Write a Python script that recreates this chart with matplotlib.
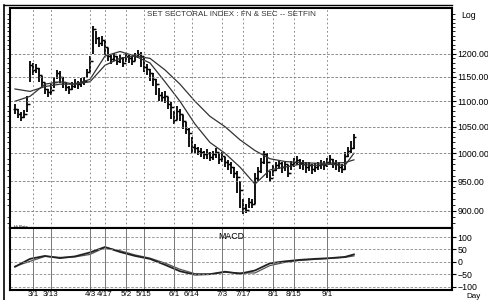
import numpy as np
import matplotlib.pyplot as plt
from matplotlib.lines import Line2D

# daily bars (trading day index 0..113)
close = [1085, 1075, 1068, 1075, 1095, 1175, 1165, 1170, 1155, 1140,
         1125, 1118, 1122, 1140, 1158, 1150, 1140, 1130, 1124, 1132,
         1138, 1135, 1140, 1142, 1160, 1185, 1255, 1235, 1225, 1230,
         1215, 1195, 1188, 1195, 1185, 1190, 1180, 1195, 1190, 1185,
         1195, 1200, 1195, 1172, 1168, 1158, 1145, 1135, 1112, 1108,
         1110, 1095, 1088, 1062, 1080, 1075, 1060, 1045, 1038, 1012,
         1010, 1005, 1003, 998, 1000, 994, 998, 1002, 990, 995,
         985, 980, 975, 965, 958, 935, 905, 902, 915, 912,
         955, 968, 985, 998, 985, 955, 970, 978, 982, 975,
         980, 965, 980, 985, 988, 982, 980, 975, 978, 972,
         975, 978, 980, 978, 985, 990, 982, 980, 975, 972,
         995, 1005, 1010, 1030]
high = [1095, 1085, 1078, 1082, 1110, 1185, 1180, 1178, 1170, 1152,
        1138, 1126, 1135, 1150, 1165, 1162, 1150, 1140, 1132, 1140,
        1145, 1142, 1148, 1150, 1168, 1195, 1262, 1250, 1238, 1240,
        1228, 1212, 1198, 1202, 1195, 1198, 1192, 1202, 1200, 1194,
        1202, 1208, 1205, 1190, 1178, 1168, 1158, 1145, 1128, 1118,
        1120, 1108, 1098, 1080, 1090, 1085, 1072, 1058, 1048, 1030,
        1018, 1012, 1010, 1005, 1008, 1002, 1004, 1010, 1000, 1002,
        994, 988, 984, 975, 968, 950, 920, 912, 922, 920,
        965, 976, 992, 1005, 1000, 968, 978, 985, 988, 984,
        986, 978, 986, 992, 995, 990, 988, 984, 985, 980,
        982, 985, 988, 986, 992, 996, 990, 988, 984, 980,
        1002, 1012, 1022, 1035]
low = [1075, 1066, 1060, 1066, 1078, 1140, 1155, 1158, 1140, 1128,
       1115, 1108, 1112, 1128, 1145, 1138, 1128, 1120, 1115, 1122,
       1128, 1126, 1130, 1134, 1148, 1160, 1200, 1222, 1215, 1218,
       1198, 1185, 1178, 1185, 1175, 1180, 1172, 1182, 1180, 1175,
       1185, 1190, 1172, 1160, 1155, 1142, 1132, 1112, 1100, 1098,
       1096, 1085, 1065, 1055, 1062, 1060, 1045, 1035, 1012, 1000,
       1000, 996, 994, 990, 990, 986, 988, 992, 980, 984,
       975, 970, 962, 955, 930, 905, 895, 896, 905, 904,
       912, 950, 965, 980, 955, 948, 960, 968, 972, 965,
       968, 958, 970, 975, 978, 972, 970, 965, 968, 962,
       966, 970, 972, 970, 975, 980, 974, 970, 966, 964,
       970, 994, 1000, 1008]

# moving averages and macd read every 5 days
ind_days = [0, 5, 10, 15, 20, 25, 30, 35, 40, 45, 50, 55, 60, 65, 70, 75,
            80, 85, 90, 95, 100, 105, 110, 113]
ma_fast = [1100, 1110, 1135, 1140, 1135, 1145, 1195, 1205, 1195, 1180, 1140, 1100,
           1055, 1020, 1000, 975, 945, 970, 975, 980, 978, 980, 978, 1000]
ma_slow = [1125, 1120, 1130, 1135, 1135, 1140, 1175, 1190, 1195, 1190, 1165, 1135,
           1100, 1070, 1050, 1025, 1005, 990, 985, 983, 982, 982, 983, 988]
macd = [-20, 12, 24, 15, 22, 38, 60, 40, 24, 12, -12, -38,
        -52, -50, -40, -48, -35, -6, 2, 8, 12, 15, 20, 30]
signal = [-18, 2, 22, 18, 20, 30, 58, 45, 28, 15, -5, -30,
          -48, -50, -42, -45, -45, -15, -2, 6, 10, 14, 18, 24]

tick_days = [6, 12, 25, 30, 37, 43, 53, 59, 69, 76, 86, 93, 104]
tick_labels = ["3/1", "3/13", "4/3", "4/17", "5/2", "5/15", "6/1", "6/14",
               "7/3", "7/17", "8/1", "8/15", "9/1"]
price_levels = [900, 950, 1000, 1050, 1100, 1150, 1200]
macd_levels = [-100, -50, 0, 50, 100]

plt.rcParams['font.family'] = 'Liberation Sans'
fig = plt.figure(figsize=(4.89, 3.0), dpi=100)
ax1 = fig.add_axes([10/489, 72/300, 442/489, 220/300])
ax2 = fig.add_axes([10/489, 10/300, 442/489, 62/300])

days = np.arange(len(close))
xlim = (-1.67, 145.7)

# price bars
ax1.vlines(days, low, high, color='black', linewidth=1.3)
ax1.hlines(close, days, days + 0.7, color='black', linewidth=1.0)
opens = [close[0]] + close[:-1]
ax1.hlines(opens, days - 0.7, days, color='black', linewidth=1.0)
ax1.plot(ind_days, ma_fast, color='#333333', linewidth=0.9)
ax1.plot(ind_days, ma_slow, color='#333333', linewidth=0.9)

ax1.set_yscale('log')
ax1.set_ylim(872, 1305)
ax1.set_xlim(*xlim)
ax1.yaxis.tick_right()
ax1.set_yticks(price_levels)
ax1.set_yticklabels([f"{v:.2f}" for v in price_levels])
ax1.set_yticks(np.arange(880, 1300, 10), minor=True)
ax1.yaxis.set_minor_formatter(plt.NullFormatter())
ax1.tick_params(axis='y', which='major', labelsize=6.3, length=3, pad=1)
ax1.tick_params(axis='y', which='minor', length=2, left=True, right=True)
ax1.set_xticks(tick_days)
ax1.tick_params(axis='x', length=0, labelbottom=False)
for lv in price_levels:
    ax1.axhline(lv, color='#777777', linewidth=0.6, linestyle=(0, (3, 2)))
for td in tick_days:
    ax1.axvline(td, color='#777777', linewidth=0.6, linestyle=(0, (2, 3)))
for s in ax1.spines.values():
    s.set_linewidth(1.5)
ax1.text(0.5, 0.985, "SET SECTORAL INDEX : FN & SEC -- SETFIN", transform=ax1.transAxes,
         ha='center', va='top', fontsize=5.8, color='#333333')
ax1.text(1.02, 0.985, "Log", transform=ax1.transAxes, ha='left', va='top', fontsize=6.3)
ax1.text(0.01, -0.005, "Hi Rate", transform=ax1.transAxes, ha='left', va='bottom', fontsize=3)

# macd panel
ax2.plot(ind_days, signal, color='#555555', linewidth=0.9)
ax2.plot(ind_days, macd, color='#222222', linewidth=1.3)
ax2.set_xlim(*xlim)
ax2.set_ylim(-114, 137)
ax2.yaxis.tick_right()
ax2.set_yticks(macd_levels)
ax2.tick_params(axis='y', labelsize=6.3, length=3, pad=1)
ax2.set_xticks(tick_days)
ax2.set_xticklabels(tick_labels)
ax2.tick_params(axis='x', length=0, labelsize=5.8, pad=1)
for lv in macd_levels:
    ax2.axhline(lv, color='#888888', linewidth=0.6, linestyle=(0, (3, 2)))
for td in tick_days:
    ax2.axvline(td, color='#777777', linewidth=0.7)
for s in ax2.spines.values():
    s.set_linewidth(1.5)
ax2.text(0.5, 0.93, "MACD", transform=ax2.transAxes, ha='center', va='top', fontsize=6.3)
fig.text(466/489, 0.5/300, "Day", ha='left', va='bottom', fontsize=5.8)

# outer scan frame on the left
fig.add_artist(Line2D([4/489, 4/489], [0, 295/300], color='black', linewidth=1.2))
fig.add_artist(Line2D([4/489, 452/489], [295/300, 295/300], color='black', linewidth=1.0))

fig.savefig("out.png", dpi=100)
